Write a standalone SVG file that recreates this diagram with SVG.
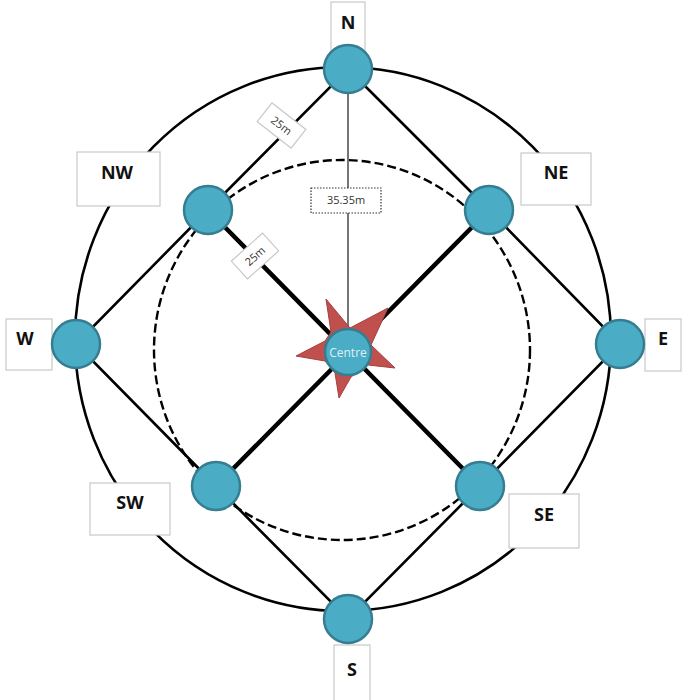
<svg xmlns="http://www.w3.org/2000/svg" width="682" height="700" viewBox="0 0 682 700">
<style>
text{font-family:"Open Sans","Liberation Sans",sans-serif;text-anchor:middle}
.n{fill:#4bacc6;stroke:#357d91;stroke-width:2.5}
.b{fill:#fff;stroke:#c8c8c8;stroke-width:1.2}
.l{font-size:18px;font-weight:700;fill:#111}
.t{font-size:11px;fill:#333}
.e{stroke:#000;stroke-width:2.6;fill:none}
.h{stroke:#000;stroke-width:4.5;fill:none}
</style>
<rect width="682" height="700" fill="#fff"/>
<g id="connectors">
<ellipse cx="343" cy="339" rx="268" ry="272" class="e"/>
<ellipse cx="342" cy="350" rx="188" ry="190" fill="none" stroke="#000" stroke-width="2.4" stroke-dasharray="9 4"/>
<path class="e" d="M348 69L489 210L620 344L480 486L348 619L216 486L76 344L208 210Z"/>
<path class="h" d="M208 210L480 486M489 210L216 486"/>
<path d="M348 69V352" stroke="#666" stroke-width="1.8"/>
</g>
<g id="star"><path d="M326 299L350 328L388 308L371 345L395 368L368 365L351 377L339 398L335 373L325 361L296 356L325 341L331 332Z" fill="#c0504d" stroke="#a5403e" stroke-width="1"/></g>
<g id="label-N"><rect class="b" x="331" y="2" width="34" height="50"/><text class="l" x="348" y="29">N</text></g>
<g id="label-NW"><rect class="b" x="77" y="152" width="83" height="54"/><text class="l" x="117" y="179">NW</text></g>
<g id="label-NE"><rect class="b" x="521" y="153" width="70" height="52"/><text class="l" x="556" y="179">NE</text></g>
<g id="label-W"><rect class="b" x="6" y="319" width="46" height="51"/><text class="l" x="25" y="345">W</text></g>
<g id="label-E"><rect class="b" x="645" y="319" width="36" height="52"/><text class="l" x="663" y="345">E</text></g>
<g id="label-SW"><rect class="b" x="90" y="483" width="80" height="52"/><text class="l" x="130" y="509">SW</text></g>
<g id="label-SE"><rect class="b" x="509" y="494" width="70" height="54"/><text class="l" x="544" y="521">SE</text></g>
<g id="label-S"><rect class="b" x="334" y="645" width="36" height="56"/><text class="l" x="352" y="676">S</text></g>
<g id="node-N"><circle class="n" cx="348" cy="69" r="24"/></g>
<g id="node-NE"><circle class="n" cx="489" cy="210" r="24"/></g>
<g id="node-E"><circle class="n" cx="620" cy="344" r="24"/></g>
<g id="node-SE"><circle class="n" cx="480" cy="486" r="24"/></g>
<g id="node-S"><circle class="n" cx="348" cy="619" r="24"/></g>
<g id="node-SW"><circle class="n" cx="216" cy="486" r="24"/></g>
<g id="node-W"><circle class="n" cx="76" cy="344" r="24"/></g>
<g id="node-NW"><circle class="n" cx="208" cy="210" r="24"/></g>
<g id="node-centre"><circle class="n" cx="348" cy="352" r="23"/><text x="348" y="357" font-size="12" fill="#dff1f6">Centre</text></g>
<g id="len-outer" transform="translate(281.5 125.5) rotate(38)"><rect class="b" x="-21.500" y="-12" width="43" height="24"/><text class="t" y="4">25m</text></g>
<g id="len-inner" transform="translate(255 256) rotate(-42)"><rect class="b" x="-21" y="-12" width="42" height="24"/><text class="t" y="4">25m</text></g>
<g id="len-radius"><rect x="311" y="188" width="70" height="25" fill="#fff" stroke="#333" stroke-width="1.2" stroke-dasharray="1.5 1.5"/><text class="t" x="346" y="204">35.35m</text></g>
</svg>
